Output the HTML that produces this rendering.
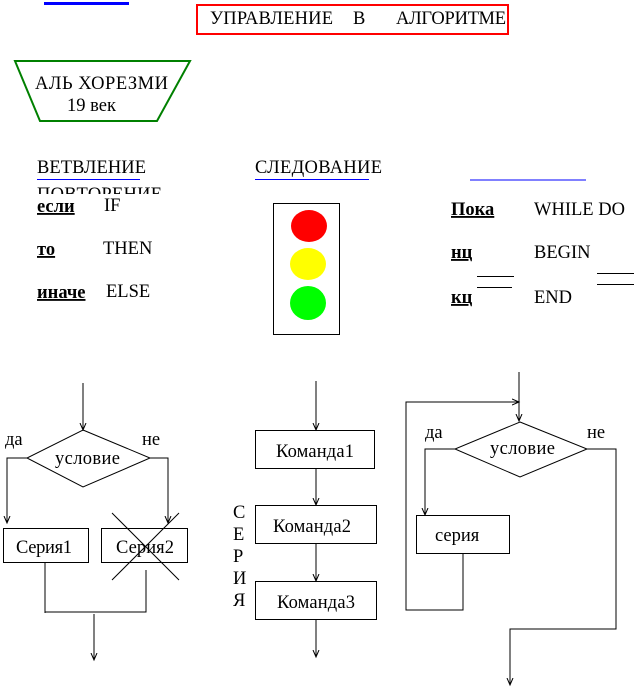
<!DOCTYPE html>
<html><head><meta charset="utf-8"><style>
html,body{margin:0;padding:0;background:#fff;}
svg{display:block;}
text{font-family:"Liberation Serif","DejaVu Serif",serif;font-size:18.5px;fill:#000;}
</style></head><body>
<svg width="635" height="688" viewBox="0 0 635 688" xmlns="http://www.w3.org/2000/svg">
<defs>
<marker id="a" markerWidth="10" markerHeight="10" refX="7" refY="4" orient="auto" markerUnits="userSpaceOnUse">
<path d="M0,1 L7,4 L0,7" fill="none" stroke="#000" stroke-width="1"/>
</marker>
</defs>
<line x1="44" y1="3.5" x2="129" y2="3.5" stroke="#00f" stroke-width="3"/>
<rect x="197" y="5" width="311" height="29" fill="none" stroke="#f00" stroke-width="2"/>
<text x="210" y="24" textLength="123">УПРАВЛЕНИЕ</text><text x="353" y="24">В</text><text x="396" y="24" textLength="110">АЛГОРИТМЕ</text>
<polygon points="15,61 190,61 157,121 40,121" fill="none" stroke="#008000" stroke-width="2"/>
<text x="35" y="89" textLength="133">АЛЬ  ХОРЕЗМИ</text><text x="67" y="111">19  век</text>

<text x="37" y="173" textLength="109">ВЕТВЛЕНИЕ</text>
<line x1="37" y1="179.5" x2="140" y2="179.5" stroke="#00f" stroke-width="1"/>
<svg x="0" y="183" width="200" height="11"><text x="37" y="17" textLength="125">ПОВТОРЕНИЕ</text></svg>
<text x="255" y="173" textLength="127">СЛЕДОВАНИЕ</text>
<line x1="255" y1="179.5" x2="369" y2="179.5" stroke="#00f" stroke-width="1"/>
<line x1="470" y1="180" x2="586" y2="180" stroke="#00f" stroke-width="1"/>

<text x="37" y="212" font-weight="bold" text-decoration="underline">если</text>
<text x="37" y="255" font-weight="bold" text-decoration="underline">то</text>
<text x="37" y="298" font-weight="bold" text-decoration="underline">иначе</text>
<text x="451" y="215" font-weight="bold" text-decoration="underline">Пока</text>
<text x="451" y="258" font-weight="bold" text-decoration="underline">нц</text>
<text x="451" y="303" font-weight="bold" text-decoration="underline">кц</text>
<text x="104" y="211">IF</text><text x="103" y="254">THEN</text><text x="106" y="297">ELSE</text>
<text x="534" y="215">WHILE   DO</text><text x="534" y="258">BEGIN</text><text x="534" y="303">END</text>
<g stroke="#000" stroke-width="1">
<line x1="477" y1="276.5" x2="514" y2="276.5"/><line x1="477" y1="287.5" x2="512" y2="287.5"/>
<line x1="597" y1="273.5" x2="634" y2="273.5"/><line x1="597" y1="284.5" x2="634" y2="284.5"/>
</g>
<rect x="273.5" y="203.5" width="66" height="131" fill="none" stroke="#000"/>
<ellipse cx="309" cy="226" rx="18" ry="16" fill="#f00"/>
<ellipse cx="308" cy="264" rx="18" ry="16" fill="#ff0"/>
<ellipse cx="308" cy="303" rx="18" ry="17" fill="#0f0"/>

<g stroke="#000" stroke-width="1" fill="none">
<line x1="83" y1="383" x2="83" y2="430" marker-end="url(#a)"/>
<polygon points="83,430 150,458 83,487 27,458"/>
<polyline points="27,458 7,458 7,523" marker-end="url(#a)"/>
<polyline points="150,458 168,458 168,523" marker-end="url(#a)"/>
<rect x="3.5" y="528.5" width="85" height="34"/>
<rect x="101.5" y="528.5" width="86" height="34"/>
<line x1="112" y1="513" x2="179" y2="580"/><line x1="179" y1="513" x2="112" y2="580"/>
<polyline points="45,563 45,613"/>
<polyline points="146,570 146,612 45,612"/>
<line x1="94" y1="614" x2="94" y2="660" marker-end="url(#a)"/>
<line x1="316" y1="381" x2="316" y2="430" marker-end="url(#a)"/>
<rect x="255.5" y="430.5" width="119" height="38"/>
<line x1="316" y1="468" x2="316" y2="505" marker-end="url(#a)"/>
<rect x="255.5" y="505.5" width="121" height="38"/>
<line x1="316" y1="543" x2="316" y2="581" marker-end="url(#a)"/>
<rect x="255.5" y="581.5" width="121" height="38"/>
<line x1="316" y1="619" x2="316" y2="657" marker-end="url(#a)"/>
<line x1="519" y1="372" x2="519" y2="421" marker-end="url(#a)"/>
<polyline points="463,553 463,610 406,610 406,402 519,402" marker-end="url(#a)"/>
<polygon points="520,422 587,449 520,477 455,449"/>
<polyline points="455,449 425,449 425,515" marker-end="url(#a)"/>
<rect x="416.5" y="515.5" width="93" height="38"/>
<polyline points="587,449 616,449 616,629 510,629 510,685" marker-end="url(#a)"/>
</g>
<text x="5" y="445">да</text><text x="142" y="445">не</text>
<text x="55" y="464" textLength="65">условие</text>
<text x="16" y="553" textLength="56">Серия1</text><text x="116" y="553" textLength="58">Серия2</text>
<text x="276" y="457" textLength="78">Команда1</text><text x="273" y="532" textLength="78">Команда2</text><text x="277" y="608" textLength="78">Команда3</text>
<text x="233" y="518">С</text><text x="233" y="540">Е</text><text x="233" y="562">Р</text><text x="233" y="584">И</text><text x="233" y="606">Я</text>
<text x="425" y="438">да</text><text x="587" y="438">не</text>
<text x="490" y="454" textLength="65">условие</text>
<text x="435" y="541">серия</text>
</svg>
</body></html>
